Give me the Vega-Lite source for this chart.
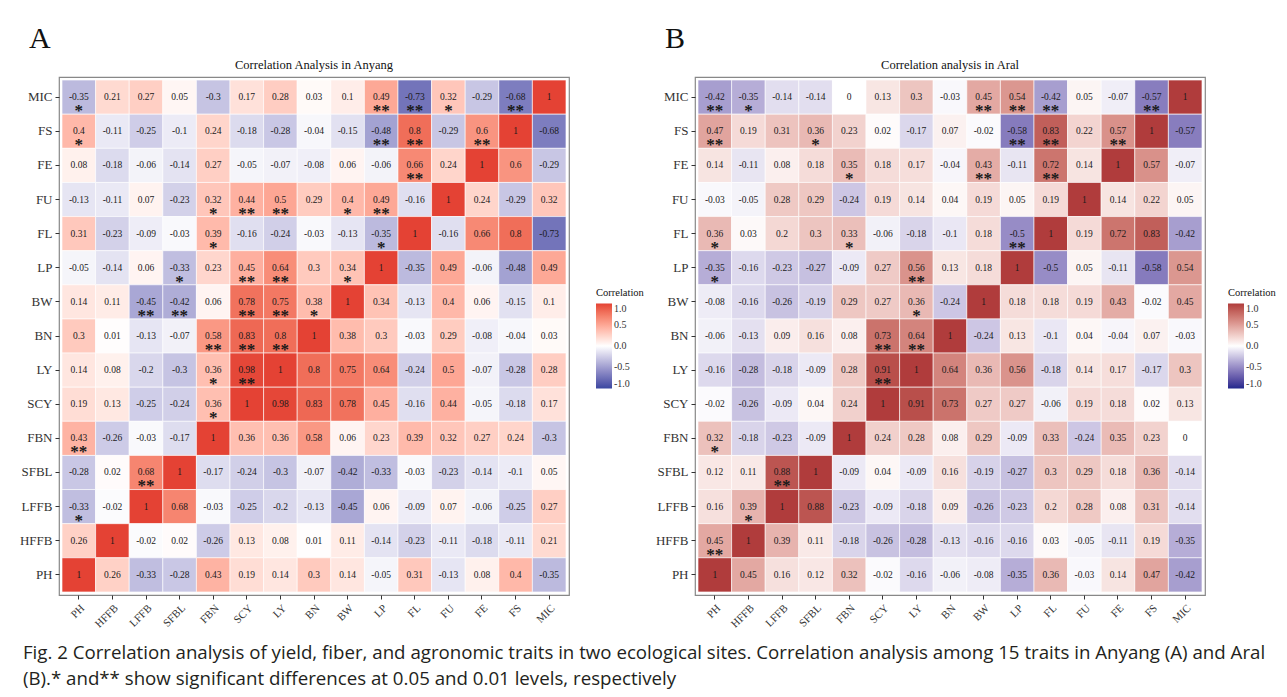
{
"$schema": "https://vega.github.io/schema/vega-lite/v6.json",
"padding": {"left": 18, "top": 23, "right": 0, "bottom": 0},
"background": "white",
"datasets": {
"a": [
{"y":"MIC","x":"PH","v":-0.35,"s":"*"},{"y":"MIC","x":"HFFB","v":0.21},{"y":"MIC","x":"LFFB","v":0.27},{"y":"MIC","x":"SFBL","v":0.05},{"y":"MIC","x":"FBN","v":-0.3},{"y":"MIC","x":"SCY","v":0.17},{"y":"MIC","x":"LY","v":0.28},{"y":"MIC","x":"BN","v":0.03},{"y":"MIC","x":"BW","v":0.1},{"y":"MIC","x":"LP","v":0.49,"s":"**"},{"y":"MIC","x":"FL","v":-0.73,"s":"**"},{"y":"MIC","x":"FU","v":0.32,"s":"*"},{"y":"MIC","x":"FE","v":-0.29},{"y":"MIC","x":"FS","v":-0.68,"s":"**"},{"y":"MIC","x":"MIC","v":1},
{"y":"FS","x":"PH","v":0.4,"s":"*"},{"y":"FS","x":"HFFB","v":-0.11},{"y":"FS","x":"LFFB","v":-0.25},{"y":"FS","x":"SFBL","v":-0.1},{"y":"FS","x":"FBN","v":0.24},{"y":"FS","x":"SCY","v":-0.18},{"y":"FS","x":"LY","v":-0.28},{"y":"FS","x":"BN","v":-0.04},{"y":"FS","x":"BW","v":-0.15},{"y":"FS","x":"LP","v":-0.48,"s":"**"},{"y":"FS","x":"FL","v":0.8,"s":"**"},{"y":"FS","x":"FU","v":-0.29},{"y":"FS","x":"FE","v":0.6,"s":"**"},{"y":"FS","x":"FS","v":1},{"y":"FS","x":"MIC","v":-0.68},
{"y":"FE","x":"PH","v":0.08},{"y":"FE","x":"HFFB","v":-0.18},{"y":"FE","x":"LFFB","v":-0.06},{"y":"FE","x":"SFBL","v":-0.14},{"y":"FE","x":"FBN","v":0.27},{"y":"FE","x":"SCY","v":-0.05},{"y":"FE","x":"LY","v":-0.07},{"y":"FE","x":"BN","v":-0.08},{"y":"FE","x":"BW","v":0.06},{"y":"FE","x":"LP","v":-0.06},{"y":"FE","x":"FL","v":0.66,"s":"**"},{"y":"FE","x":"FU","v":0.24},{"y":"FE","x":"FE","v":1},{"y":"FE","x":"FS","v":0.6},{"y":"FE","x":"MIC","v":-0.29},
{"y":"FU","x":"PH","v":-0.13},{"y":"FU","x":"HFFB","v":-0.11},{"y":"FU","x":"LFFB","v":0.07},{"y":"FU","x":"SFBL","v":-0.23},{"y":"FU","x":"FBN","v":0.32,"s":"*"},{"y":"FU","x":"SCY","v":0.44,"s":"**"},{"y":"FU","x":"LY","v":0.5,"s":"**"},{"y":"FU","x":"BN","v":0.29},{"y":"FU","x":"BW","v":0.4,"s":"*"},{"y":"FU","x":"LP","v":0.49,"s":"**"},{"y":"FU","x":"FL","v":-0.16},{"y":"FU","x":"FU","v":1},{"y":"FU","x":"FE","v":0.24},{"y":"FU","x":"FS","v":-0.29},{"y":"FU","x":"MIC","v":0.32},
{"y":"FL","x":"PH","v":0.31},{"y":"FL","x":"HFFB","v":-0.23},{"y":"FL","x":"LFFB","v":-0.09},{"y":"FL","x":"SFBL","v":-0.03},{"y":"FL","x":"FBN","v":0.39,"s":"*"},{"y":"FL","x":"SCY","v":-0.16},{"y":"FL","x":"LY","v":-0.24},{"y":"FL","x":"BN","v":-0.03},{"y":"FL","x":"BW","v":-0.13},{"y":"FL","x":"LP","v":-0.35,"s":"*"},{"y":"FL","x":"FL","v":1},{"y":"FL","x":"FU","v":-0.16},{"y":"FL","x":"FE","v":0.66},{"y":"FL","x":"FS","v":0.8},{"y":"FL","x":"MIC","v":-0.73},
{"y":"LP","x":"PH","v":-0.05},{"y":"LP","x":"HFFB","v":-0.14},{"y":"LP","x":"LFFB","v":0.06},{"y":"LP","x":"SFBL","v":-0.33,"s":"*"},{"y":"LP","x":"FBN","v":0.23},{"y":"LP","x":"SCY","v":0.45,"s":"**"},{"y":"LP","x":"LY","v":0.64,"s":"**"},{"y":"LP","x":"BN","v":0.3},{"y":"LP","x":"BW","v":0.34,"s":"*"},{"y":"LP","x":"LP","v":1},{"y":"LP","x":"FL","v":-0.35},{"y":"LP","x":"FU","v":0.49},{"y":"LP","x":"FE","v":-0.06},{"y":"LP","x":"FS","v":-0.48},{"y":"LP","x":"MIC","v":0.49},
{"y":"BW","x":"PH","v":0.14},{"y":"BW","x":"HFFB","v":0.11},{"y":"BW","x":"LFFB","v":-0.45,"s":"**"},{"y":"BW","x":"SFBL","v":-0.42,"s":"**"},{"y":"BW","x":"FBN","v":0.06},{"y":"BW","x":"SCY","v":0.78,"s":"**"},{"y":"BW","x":"LY","v":0.75,"s":"**"},{"y":"BW","x":"BN","v":0.38,"s":"*"},{"y":"BW","x":"BW","v":1},{"y":"BW","x":"LP","v":0.34},{"y":"BW","x":"FL","v":-0.13},{"y":"BW","x":"FU","v":0.4},{"y":"BW","x":"FE","v":0.06},{"y":"BW","x":"FS","v":-0.15},{"y":"BW","x":"MIC","v":0.1},
{"y":"BN","x":"PH","v":0.3},{"y":"BN","x":"HFFB","v":0.01},{"y":"BN","x":"LFFB","v":-0.13},{"y":"BN","x":"SFBL","v":-0.07},{"y":"BN","x":"FBN","v":0.58,"s":"**"},{"y":"BN","x":"SCY","v":0.83,"s":"**"},{"y":"BN","x":"LY","v":0.8,"s":"**"},{"y":"BN","x":"BN","v":1},{"y":"BN","x":"BW","v":0.38},{"y":"BN","x":"LP","v":0.3},{"y":"BN","x":"FL","v":-0.03},{"y":"BN","x":"FU","v":0.29},{"y":"BN","x":"FE","v":-0.08},{"y":"BN","x":"FS","v":-0.04},{"y":"BN","x":"MIC","v":0.03},
{"y":"LY","x":"PH","v":0.14},{"y":"LY","x":"HFFB","v":0.08},{"y":"LY","x":"LFFB","v":-0.2},{"y":"LY","x":"SFBL","v":-0.3},{"y":"LY","x":"FBN","v":0.36,"s":"*"},{"y":"LY","x":"SCY","v":0.98,"s":"**"},{"y":"LY","x":"LY","v":1},{"y":"LY","x":"BN","v":0.8},{"y":"LY","x":"BW","v":0.75},{"y":"LY","x":"LP","v":0.64},{"y":"LY","x":"FL","v":-0.24},{"y":"LY","x":"FU","v":0.5},{"y":"LY","x":"FE","v":-0.07},{"y":"LY","x":"FS","v":-0.28},{"y":"LY","x":"MIC","v":0.28},
{"y":"SCY","x":"PH","v":0.19},{"y":"SCY","x":"HFFB","v":0.13},{"y":"SCY","x":"LFFB","v":-0.25},{"y":"SCY","x":"SFBL","v":-0.24},{"y":"SCY","x":"FBN","v":0.36,"s":"*"},{"y":"SCY","x":"SCY","v":1},{"y":"SCY","x":"LY","v":0.98},{"y":"SCY","x":"BN","v":0.83},{"y":"SCY","x":"BW","v":0.78},{"y":"SCY","x":"LP","v":0.45},{"y":"SCY","x":"FL","v":-0.16},{"y":"SCY","x":"FU","v":0.44},{"y":"SCY","x":"FE","v":-0.05},{"y":"SCY","x":"FS","v":-0.18},{"y":"SCY","x":"MIC","v":0.17},
{"y":"FBN","x":"PH","v":0.43,"s":"**"},{"y":"FBN","x":"HFFB","v":-0.26},{"y":"FBN","x":"LFFB","v":-0.03},{"y":"FBN","x":"SFBL","v":-0.17},{"y":"FBN","x":"FBN","v":1},{"y":"FBN","x":"SCY","v":0.36},{"y":"FBN","x":"LY","v":0.36},{"y":"FBN","x":"BN","v":0.58},{"y":"FBN","x":"BW","v":0.06},{"y":"FBN","x":"LP","v":0.23},{"y":"FBN","x":"FL","v":0.39},{"y":"FBN","x":"FU","v":0.32},{"y":"FBN","x":"FE","v":0.27},{"y":"FBN","x":"FS","v":0.24},{"y":"FBN","x":"MIC","v":-0.3},
{"y":"SFBL","x":"PH","v":-0.28},{"y":"SFBL","x":"HFFB","v":0.02},{"y":"SFBL","x":"LFFB","v":0.68,"s":"**"},{"y":"SFBL","x":"SFBL","v":1},{"y":"SFBL","x":"FBN","v":-0.17},{"y":"SFBL","x":"SCY","v":-0.24},{"y":"SFBL","x":"LY","v":-0.3},{"y":"SFBL","x":"BN","v":-0.07},{"y":"SFBL","x":"BW","v":-0.42},{"y":"SFBL","x":"LP","v":-0.33},{"y":"SFBL","x":"FL","v":-0.03},{"y":"SFBL","x":"FU","v":-0.23},{"y":"SFBL","x":"FE","v":-0.14},{"y":"SFBL","x":"FS","v":-0.1},{"y":"SFBL","x":"MIC","v":0.05},
{"y":"LFFB","x":"PH","v":-0.33,"s":"*"},{"y":"LFFB","x":"HFFB","v":-0.02},{"y":"LFFB","x":"LFFB","v":1},{"y":"LFFB","x":"SFBL","v":0.68},{"y":"LFFB","x":"FBN","v":-0.03},{"y":"LFFB","x":"SCY","v":-0.25},{"y":"LFFB","x":"LY","v":-0.2},{"y":"LFFB","x":"BN","v":-0.13},{"y":"LFFB","x":"BW","v":-0.45},{"y":"LFFB","x":"LP","v":0.06},{"y":"LFFB","x":"FL","v":-0.09},{"y":"LFFB","x":"FU","v":0.07},{"y":"LFFB","x":"FE","v":-0.06},{"y":"LFFB","x":"FS","v":-0.25},{"y":"LFFB","x":"MIC","v":0.27},
{"y":"HFFB","x":"PH","v":0.26},{"y":"HFFB","x":"HFFB","v":1},{"y":"HFFB","x":"LFFB","v":-0.02},{"y":"HFFB","x":"SFBL","v":0.02},{"y":"HFFB","x":"FBN","v":-0.26},{"y":"HFFB","x":"SCY","v":0.13},{"y":"HFFB","x":"LY","v":0.08},{"y":"HFFB","x":"BN","v":0.01},{"y":"HFFB","x":"BW","v":0.11},{"y":"HFFB","x":"LP","v":-0.14},{"y":"HFFB","x":"FL","v":-0.23},{"y":"HFFB","x":"FU","v":-0.11},{"y":"HFFB","x":"FE","v":-0.18},{"y":"HFFB","x":"FS","v":-0.11},{"y":"HFFB","x":"MIC","v":0.21},
{"y":"PH","x":"PH","v":1},{"y":"PH","x":"HFFB","v":0.26},{"y":"PH","x":"LFFB","v":-0.33},{"y":"PH","x":"SFBL","v":-0.28},{"y":"PH","x":"FBN","v":0.43},{"y":"PH","x":"SCY","v":0.19},{"y":"PH","x":"LY","v":0.14},{"y":"PH","x":"BN","v":0.3},{"y":"PH","x":"BW","v":0.14},{"y":"PH","x":"LP","v":-0.05},{"y":"PH","x":"FL","v":0.31},{"y":"PH","x":"FU","v":-0.13},{"y":"PH","x":"FE","v":0.08},{"y":"PH","x":"FS","v":0.4},{"y":"PH","x":"MIC","v":-0.35}
],
"b": [
{"y":"MIC","x":"PH","v":-0.42,"s":"**"},{"y":"MIC","x":"HFFB","v":-0.35,"s":"*"},{"y":"MIC","x":"LFFB","v":-0.14},{"y":"MIC","x":"SFBL","v":-0.14},{"y":"MIC","x":"FBN","v":0},{"y":"MIC","x":"SCY","v":0.13},{"y":"MIC","x":"LY","v":0.3},{"y":"MIC","x":"BN","v":-0.03},{"y":"MIC","x":"BW","v":0.45,"s":"**"},{"y":"MIC","x":"LP","v":0.54,"s":"**"},{"y":"MIC","x":"FL","v":-0.42,"s":"**"},{"y":"MIC","x":"FU","v":0.05},{"y":"MIC","x":"FE","v":-0.07},{"y":"MIC","x":"FS","v":-0.57,"s":"**"},{"y":"MIC","x":"MIC","v":1},
{"y":"FS","x":"PH","v":0.47,"s":"**"},{"y":"FS","x":"HFFB","v":0.19},{"y":"FS","x":"LFFB","v":0.31},{"y":"FS","x":"SFBL","v":0.36,"s":"*"},{"y":"FS","x":"FBN","v":0.23},{"y":"FS","x":"SCY","v":0.02},{"y":"FS","x":"LY","v":-0.17},{"y":"FS","x":"BN","v":0.07},{"y":"FS","x":"BW","v":-0.02},{"y":"FS","x":"LP","v":-0.58,"s":"**"},{"y":"FS","x":"FL","v":0.83,"s":"**"},{"y":"FS","x":"FU","v":0.22},{"y":"FS","x":"FE","v":0.57,"s":"**"},{"y":"FS","x":"FS","v":1},{"y":"FS","x":"MIC","v":-0.57},
{"y":"FE","x":"PH","v":0.14},{"y":"FE","x":"HFFB","v":-0.11},{"y":"FE","x":"LFFB","v":0.08},{"y":"FE","x":"SFBL","v":0.18},{"y":"FE","x":"FBN","v":0.35,"s":"*"},{"y":"FE","x":"SCY","v":0.18},{"y":"FE","x":"LY","v":0.17},{"y":"FE","x":"BN","v":-0.04},{"y":"FE","x":"BW","v":0.43,"s":"**"},{"y":"FE","x":"LP","v":-0.11},{"y":"FE","x":"FL","v":0.72,"s":"**"},{"y":"FE","x":"FU","v":0.14},{"y":"FE","x":"FE","v":1},{"y":"FE","x":"FS","v":0.57},{"y":"FE","x":"MIC","v":-0.07},
{"y":"FU","x":"PH","v":-0.03},{"y":"FU","x":"HFFB","v":-0.05},{"y":"FU","x":"LFFB","v":0.28},{"y":"FU","x":"SFBL","v":0.29},{"y":"FU","x":"FBN","v":-0.24},{"y":"FU","x":"SCY","v":0.19},{"y":"FU","x":"LY","v":0.14},{"y":"FU","x":"BN","v":0.04},{"y":"FU","x":"BW","v":0.19},{"y":"FU","x":"LP","v":0.05},{"y":"FU","x":"FL","v":0.19},{"y":"FU","x":"FU","v":1},{"y":"FU","x":"FE","v":0.14},{"y":"FU","x":"FS","v":0.22},{"y":"FU","x":"MIC","v":0.05},
{"y":"FL","x":"PH","v":0.36,"s":"*"},{"y":"FL","x":"HFFB","v":0.03},{"y":"FL","x":"LFFB","v":0.2},{"y":"FL","x":"SFBL","v":0.3},{"y":"FL","x":"FBN","v":0.33,"s":"*"},{"y":"FL","x":"SCY","v":-0.06},{"y":"FL","x":"LY","v":-0.18},{"y":"FL","x":"BN","v":-0.1},{"y":"FL","x":"BW","v":0.18},{"y":"FL","x":"LP","v":-0.5,"s":"**"},{"y":"FL","x":"FL","v":1},{"y":"FL","x":"FU","v":0.19},{"y":"FL","x":"FE","v":0.72},{"y":"FL","x":"FS","v":0.83},{"y":"FL","x":"MIC","v":-0.42},
{"y":"LP","x":"PH","v":-0.35,"s":"*"},{"y":"LP","x":"HFFB","v":-0.16},{"y":"LP","x":"LFFB","v":-0.23},{"y":"LP","x":"SFBL","v":-0.27},{"y":"LP","x":"FBN","v":-0.09},{"y":"LP","x":"SCY","v":0.27},{"y":"LP","x":"LY","v":0.56,"s":"**"},{"y":"LP","x":"BN","v":0.13},{"y":"LP","x":"BW","v":0.18},{"y":"LP","x":"LP","v":1},{"y":"LP","x":"FL","v":-0.5},{"y":"LP","x":"FU","v":0.05},{"y":"LP","x":"FE","v":-0.11},{"y":"LP","x":"FS","v":-0.58},{"y":"LP","x":"MIC","v":0.54},
{"y":"BW","x":"PH","v":-0.08},{"y":"BW","x":"HFFB","v":-0.16},{"y":"BW","x":"LFFB","v":-0.26},{"y":"BW","x":"SFBL","v":-0.19},{"y":"BW","x":"FBN","v":0.29},{"y":"BW","x":"SCY","v":0.27},{"y":"BW","x":"LY","v":0.36,"s":"*"},{"y":"BW","x":"BN","v":-0.24},{"y":"BW","x":"BW","v":1},{"y":"BW","x":"LP","v":0.18},{"y":"BW","x":"FL","v":0.18},{"y":"BW","x":"FU","v":0.19},{"y":"BW","x":"FE","v":0.43},{"y":"BW","x":"FS","v":-0.02},{"y":"BW","x":"MIC","v":0.45},
{"y":"BN","x":"PH","v":-0.06},{"y":"BN","x":"HFFB","v":-0.13},{"y":"BN","x":"LFFB","v":0.09},{"y":"BN","x":"SFBL","v":0.16},{"y":"BN","x":"FBN","v":0.08},{"y":"BN","x":"SCY","v":0.73,"s":"**"},{"y":"BN","x":"LY","v":0.64,"s":"**"},{"y":"BN","x":"BN","v":1},{"y":"BN","x":"BW","v":-0.24},{"y":"BN","x":"LP","v":0.13},{"y":"BN","x":"FL","v":-0.1},{"y":"BN","x":"FU","v":0.04},{"y":"BN","x":"FE","v":-0.04},{"y":"BN","x":"FS","v":0.07},{"y":"BN","x":"MIC","v":-0.03},
{"y":"LY","x":"PH","v":-0.16},{"y":"LY","x":"HFFB","v":-0.28},{"y":"LY","x":"LFFB","v":-0.18},{"y":"LY","x":"SFBL","v":-0.09},{"y":"LY","x":"FBN","v":0.28},{"y":"LY","x":"SCY","v":0.91,"s":"**"},{"y":"LY","x":"LY","v":1},{"y":"LY","x":"BN","v":0.64},{"y":"LY","x":"BW","v":0.36},{"y":"LY","x":"LP","v":0.56},{"y":"LY","x":"FL","v":-0.18},{"y":"LY","x":"FU","v":0.14},{"y":"LY","x":"FE","v":0.17},{"y":"LY","x":"FS","v":-0.17},{"y":"LY","x":"MIC","v":0.3},
{"y":"SCY","x":"PH","v":-0.02},{"y":"SCY","x":"HFFB","v":-0.26},{"y":"SCY","x":"LFFB","v":-0.09},{"y":"SCY","x":"SFBL","v":0.04},{"y":"SCY","x":"FBN","v":0.24},{"y":"SCY","x":"SCY","v":1},{"y":"SCY","x":"LY","v":0.91},{"y":"SCY","x":"BN","v":0.73},{"y":"SCY","x":"BW","v":0.27},{"y":"SCY","x":"LP","v":0.27},{"y":"SCY","x":"FL","v":-0.06},{"y":"SCY","x":"FU","v":0.19},{"y":"SCY","x":"FE","v":0.18},{"y":"SCY","x":"FS","v":0.02},{"y":"SCY","x":"MIC","v":0.13},
{"y":"FBN","x":"PH","v":0.32,"s":"*"},{"y":"FBN","x":"HFFB","v":-0.18},{"y":"FBN","x":"LFFB","v":-0.23},{"y":"FBN","x":"SFBL","v":-0.09},{"y":"FBN","x":"FBN","v":1},{"y":"FBN","x":"SCY","v":0.24},{"y":"FBN","x":"LY","v":0.28},{"y":"FBN","x":"BN","v":0.08},{"y":"FBN","x":"BW","v":0.29},{"y":"FBN","x":"LP","v":-0.09},{"y":"FBN","x":"FL","v":0.33},{"y":"FBN","x":"FU","v":-0.24},{"y":"FBN","x":"FE","v":0.35},{"y":"FBN","x":"FS","v":0.23},{"y":"FBN","x":"MIC","v":0},
{"y":"SFBL","x":"PH","v":0.12},{"y":"SFBL","x":"HFFB","v":0.11},{"y":"SFBL","x":"LFFB","v":0.88,"s":"**"},{"y":"SFBL","x":"SFBL","v":1},{"y":"SFBL","x":"FBN","v":-0.09},{"y":"SFBL","x":"SCY","v":0.04},{"y":"SFBL","x":"LY","v":-0.09},{"y":"SFBL","x":"BN","v":0.16},{"y":"SFBL","x":"BW","v":-0.19},{"y":"SFBL","x":"LP","v":-0.27},{"y":"SFBL","x":"FL","v":0.3},{"y":"SFBL","x":"FU","v":0.29},{"y":"SFBL","x":"FE","v":0.18},{"y":"SFBL","x":"FS","v":0.36},{"y":"SFBL","x":"MIC","v":-0.14},
{"y":"LFFB","x":"PH","v":0.16},{"y":"LFFB","x":"HFFB","v":0.39,"s":"*"},{"y":"LFFB","x":"LFFB","v":1},{"y":"LFFB","x":"SFBL","v":0.88},{"y":"LFFB","x":"FBN","v":-0.23},{"y":"LFFB","x":"SCY","v":-0.09},{"y":"LFFB","x":"LY","v":-0.18},{"y":"LFFB","x":"BN","v":0.09},{"y":"LFFB","x":"BW","v":-0.26},{"y":"LFFB","x":"LP","v":-0.23},{"y":"LFFB","x":"FL","v":0.2},{"y":"LFFB","x":"FU","v":0.28},{"y":"LFFB","x":"FE","v":0.08},{"y":"LFFB","x":"FS","v":0.31},{"y":"LFFB","x":"MIC","v":-0.14},
{"y":"HFFB","x":"PH","v":0.45,"s":"**"},{"y":"HFFB","x":"HFFB","v":1},{"y":"HFFB","x":"LFFB","v":0.39},{"y":"HFFB","x":"SFBL","v":0.11},{"y":"HFFB","x":"FBN","v":-0.18},{"y":"HFFB","x":"SCY","v":-0.26},{"y":"HFFB","x":"LY","v":-0.28},{"y":"HFFB","x":"BN","v":-0.13},{"y":"HFFB","x":"BW","v":-0.16},{"y":"HFFB","x":"LP","v":-0.16},{"y":"HFFB","x":"FL","v":0.03},{"y":"HFFB","x":"FU","v":-0.05},{"y":"HFFB","x":"FE","v":-0.11},{"y":"HFFB","x":"FS","v":0.19},{"y":"HFFB","x":"MIC","v":-0.35},
{"y":"PH","x":"PH","v":1},{"y":"PH","x":"HFFB","v":0.45},{"y":"PH","x":"LFFB","v":0.16},{"y":"PH","x":"SFBL","v":0.12},{"y":"PH","x":"FBN","v":0.32},{"y":"PH","x":"SCY","v":-0.02},{"y":"PH","x":"LY","v":-0.16},{"y":"PH","x":"BN","v":-0.06},{"y":"PH","x":"BW","v":-0.08},{"y":"PH","x":"LP","v":-0.35},{"y":"PH","x":"FL","v":0.36},{"y":"PH","x":"FU","v":-0.03},{"y":"PH","x":"FE","v":0.14},{"y":"PH","x":"FS","v":0.47},{"y":"PH","x":"MIC","v":-0.42}
]
},
"title": {
"text": ["Fig. 2  Correlation analysis of yield, fiber, and agronomic traits in two ecological sites. Correlation analysis among 15 traits in Anyang (A) and Aral", "(B).* and** show significant differences at 0.05 and 0.01 levels, respectively"],
"orient": "bottom", "anchor": "start", "font": "Open Sans", "fontSize": 18.7, "fontWeight": "normal", "color": "#231f20", "lineHeight": 26, "offset": 14, "dx": 4
},
"spacing": 10,
"resolve": {"scale": {"color": "independent"}, "legend": {"color": "independent"}},
"hconcat": [
{
"title": {"text": "A", "anchor": "start", "font": "Liberation Serif", "fontSize": 30, "fontWeight": "normal", "color": "#111111", "offset": 4, "dx": 10},
"vconcat": [
{
"width": 510, "height": 518,
"title": {"text": "Correlation Analysis in Anyang", "font": "Liberation Serif", "fontSize": 12.5, "fontWeight": "normal", "color": "#111111", "offset": 6},
"data": {"name": "a"},
"encoding": {
"x": {"field": "x", "type": "nominal", "title": null, "scale": {"domain": ["PH","HFFB","LFFB","SFBL","FBN","SCY","LY","BN","BW","LP","FL","FU","FE","FS","MIC"], "paddingInner": 0, "paddingOuter": 0.09}, "axis": {"labelAngle": -45, "labelFontSize": 11}},
"y": {"field": "y", "type": "nominal", "title": null, "scale": {"domain": ["MIC","FS","FE","FU","FL","LP","BW","BN","LY","SCY","FBN","SFBL","LFFB","HFFB","PH"], "paddingInner": 0, "paddingOuter": 0.09}, "axis": {"labelFontSize": 13}}
},
"layer": [
{"mark": {"type": "rect", "stroke": "white", "strokeWidth": 0.6},
 "encoding": {"color": {"field": "v", "type": "quantitative", "scale": {"domain": [-1, 0, 1], "range": ["#3A47A0", "#FFFFFF", "#E44234"], "interpolate": "lab"},
   "legend": {"title": "Correlation", "values": [-1, -0.5, 0, 0.5, 1], "orient": "none", "legendX": 537, "legendY": 211, "labelExpr": "datum.value < 0 ? '-' + format(-datum.value, '.1f') : format(datum.value, '.1f')"}}}},
{"mark": {"type": "text", "font": "Liberation Serif", "fontSize": 9.5, "color": "#1a1a1a"},
 "encoding": {"text": {"field": "v", "type": "nominal"}}},
{"transform": [{"filter": "isValid(datum.s)"}],
 "mark": {"type": "text", "font": "Liberation Serif", "fontSize": 17, "fontWeight": "bold", "color": "#1a1a1a", "baseline": "alphabetic", "dy": 19},
 "encoding": {"text": {"field": "s", "type": "nominal"}}}
]
}
]
},
{
"title": {"text": "B", "anchor": "start", "font": "Liberation Serif", "fontSize": 30, "fontWeight": "normal", "color": "#111111", "offset": 4, "dx": 10},
"vconcat": [
{
"width": 510, "height": 518,
"title": {"text": "Correlation analysis in Aral", "font": "Liberation Serif", "fontSize": 12.5, "fontWeight": "normal", "color": "#111111", "offset": 6},
"data": {"name": "b"},
"encoding": {
"x": {"field": "x", "type": "nominal", "title": null, "scale": {"domain": ["PH","HFFB","LFFB","SFBL","FBN","SCY","LY","BN","BW","LP","FL","FU","FE","FS","MIC"], "paddingInner": 0, "paddingOuter": 0.09}, "axis": {"labelAngle": -45, "labelFontSize": 11}},
"y": {"field": "y", "type": "nominal", "title": null, "scale": {"domain": ["MIC","FS","FE","FU","FL","LP","BW","BN","LY","SCY","FBN","SFBL","LFFB","HFFB","PH"], "paddingInner": 0, "paddingOuter": 0.09}, "axis": {"labelFontSize": 13}}
},
"layer": [
{"mark": {"type": "rect", "stroke": "white", "strokeWidth": 0.6},
 "encoding": {"color": {"field": "v", "type": "quantitative", "scale": {"domain": [-1, 0, 1], "range": ["#22288C", "#FFFFFF", "#B03C3C"], "interpolate": "lab"},
   "legend": {"title": "Correlation", "values": [-1, -0.5, 0, 0.5, 1], "orient": "none", "legendX": 533, "legendY": 211, "labelExpr": "datum.value < 0 ? '-' + format(-datum.value, '.1f') : format(datum.value, '.1f')"}}}},
{"mark": {"type": "text", "font": "Liberation Serif", "fontSize": 9.5, "color": "#1a1a1a"},
 "encoding": {"text": {"field": "v", "type": "nominal"}}},
{"transform": [{"filter": "isValid(datum.s)"}],
 "mark": {"type": "text", "font": "Liberation Serif", "fontSize": 17, "fontWeight": "bold", "color": "#1a1a1a", "baseline": "alphabetic", "dy": 19},
 "encoding": {"text": {"field": "s", "type": "nominal"}}}
]
}
]
}
],
"config": {
"font": "Liberation Serif",
"view": {"stroke": "#888888", "strokeWidth": 1.2},
"axis": {"domain": false, "grid": false, "labelFont": "Liberation Serif", "labelColor": "#333333", "tickColor": "#333333", "tickSize": 4, "labelPadding": 3},
"legend": {"titleFont": "Liberation Serif", "titleFontSize": 10.5, "titleFontWeight": "normal", "titleColor": "#111111", "labelFont": "Liberation Serif", "labelFontSize": 10, "labelColor": "#333333", "gradientLength": 85, "gradientThickness": 16, "gradientStrokeWidth": 0, "titlePadding": 5}
}
}
